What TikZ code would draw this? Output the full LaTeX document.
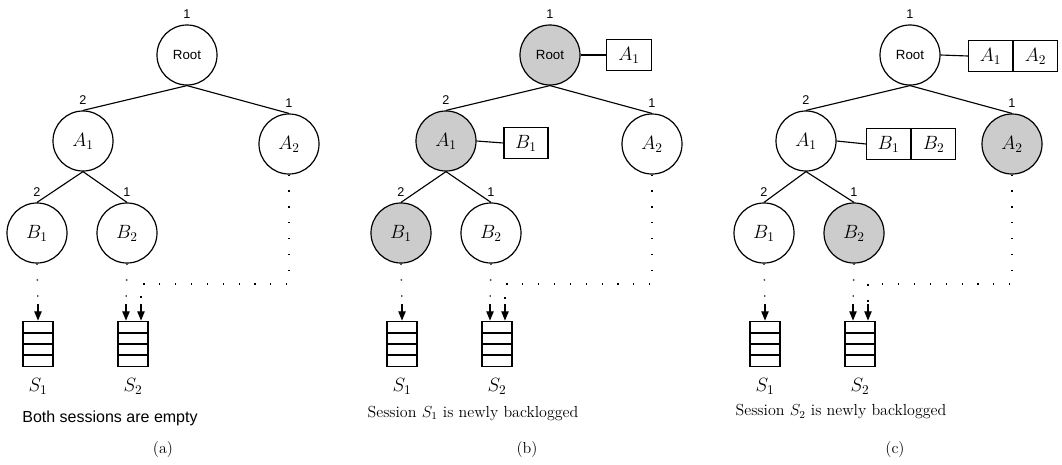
\documentclass[tikz,border=0pt]{standalone}
\usepackage{fontspec}
\setsansfont{Liberation Sans}
\usetikzlibrary{arrows.meta}
\definecolor{shade}{gray}{0.8}
\tikzset{
  tn/.style={circle,draw,line width=0.9pt,minimum size=45pt,inner sep=0pt,
    font=\fontsize{14}{16}\selectfont},
  num/.style={font=\sffamily\fontsize{9.5}{11}\selectfont,inner sep=1pt},
  link/.style={line width=0.85pt},
  cell/.style={draw,line width=0.8pt,minimum width=33pt,minimum height=23pt,
    inner sep=0pt,font=\fontsize{14}{16}\selectfont},
  queue/.style={draw,line width=1.3pt,minimum width=22.5pt,minimum height=33.75pt,
    inner sep=0pt,path picture={
      \foreach \k in {1,2,3}
        \draw[line width=1.2pt]
          ([yshift=-\k*8.4375pt]path picture bounding box.north west) --
          ([yshift=-\k*8.4375pt]path picture bounding box.north east);}},
  dotline/.style={line width=1pt,dash pattern=on 0.9pt off 11pt},
  feed/.style={line width=1pt,-{Triangle[length=7pt,width=5.5pt]}},
  sess/.style={font=\fontsize{14}{16}\selectfont},
  captext/.style={font=\fontsize{12}{14}\selectfont},
  sh/.style={fill=shade},
  rootsh/.style={}, aonesh/.style={}, atwosh/.style={},
  bonesh/.style={}, btwosh/.style={},
}
% one scheduling tree with its two session queues;
% #1 shifts the lower row (leaves and queues) sideways
\newcommand{\schedpanel}[1]{%
  \node[tn,rootsh,label={[num,label distance=3.5pt]above:1}] (R) at (187,55)
    {\sffamily\fontsize{10}{11}\selectfont Root};
  \node[tn,aonesh,label={[num,label distance=3pt]above:2}] (A1) at (83,141) {$A_1$};
  \node[tn,atwosh,label={[num,label distance=3pt]above:1}] (A2) at (289,144) {$A_2$};
  \node[tn,bonesh,label={[num,label distance=3pt]above:2}] (B1) at ({37+#1},233) {$B_1$};
  \node[tn,btwosh,label={[num,label distance=3pt]above:1}] (B2) at ({127+#1},233) {$B_2$};
  \draw[link] (R.south) -- (A1.north);
  \draw[link] (R.south) -- (A2.north);
  \draw[link] (A1.south) -- (B1.north);
  \draw[link] (A1.south) -- (B2.north);
  \node[queue] (Q1) at ({38+#1},344) {};
  \node[queue] (Q2) at ({133+#1},344) {};
  \node[sess] (S1) at ({38+#1},386) {$S_1$};
  \node[sess] (S2) at ({133+#1},386) {$S_2$};
  \coordinate (f1) at ({38+#1},304);
  \coordinate (f2) at ({126+#1},304);
  \coordinate (f3) at ({141+#1},304);
  \coordinate (k) at (289,284);
  \coordinate (h) at ({141+#1},284);
  \draw[dotline] (B1.south) -- (f1);
  \draw[feed] (f1) -- (f1 |- Q1.north);
  \draw[dotline] (B2.south) -- (f2);
  \draw[feed] (f2) -- (f2 |- Q2.north);
  \draw[dotline] (A2.south) -- (k) -- (h) -- (f3);
  \draw[feed] (f3) -- (f3 |- Q2.north);
}
\begin{document}
\begin{tikzpicture}[x=0.75pt,y=-0.75pt]
\useasboundingbox (0,0) rectangle (1062,464);
\fill[white] (0,0) rectangle (1062,464);

% (a) both sessions empty
\begin{scope}[name prefix=a-]
  \schedpanel{0}
  \node[font=\sffamily\fontsize{12}{14}\selectfont] (txt) at (110,418) {Both sessions are empty};
  \node[captext] (lbl) at (163,450) {(a)};
\end{scope}

% (b) session S1 becomes backlogged
\begin{scope}[shift={(363,0)},name prefix=b-,
    rootsh/.style={sh},aonesh/.style={sh},bonesh/.style={sh}]
  \schedpanel{1}
  \node[cell,minimum width=33.75pt] (RA1) at (266,55) {$A_1$};
  \draw[link] (R.east) -- (RA1.west);
  \node[cell,minimum width=33pt] (AB1) at (163,143) {$B_1$};
  \draw[link] (A1.east) -- (AB1.west);
  \node[captext] (txt) at (110,413) {Session $S_1$ is newly backlogged};
  \node[captext] (lbl) at (164,450) {(b)};
\end{scope}

% (c) session S2 becomes backlogged
\begin{scope}[shift={(723,0)},name prefix=c-,
    atwosh/.style={sh},btwosh/.style={sh}]
  \schedpanel{4}
  \node[cell,anchor=west] (RA1) at (245,56) {$A_1$};
  \node[cell,anchor=west] (RA2) at (RA1.east) {$A_2$};
  \draw[link] (R.east) -- (RA1.west);
  \node[cell,anchor=west] (AB1) at (143,144) {$B_1$};
  \node[cell,anchor=west] (AB2) at (AB1.east) {$B_2$};
  \draw[link] (A1.east) -- (AB1.west);
  \node[captext] (txt) at (118,412) {Session $S_2$ is newly backlogged};
  \node[captext] (lbl) at (172,450) {(c)};
\end{scope}
\end{tikzpicture}
\end{document}
